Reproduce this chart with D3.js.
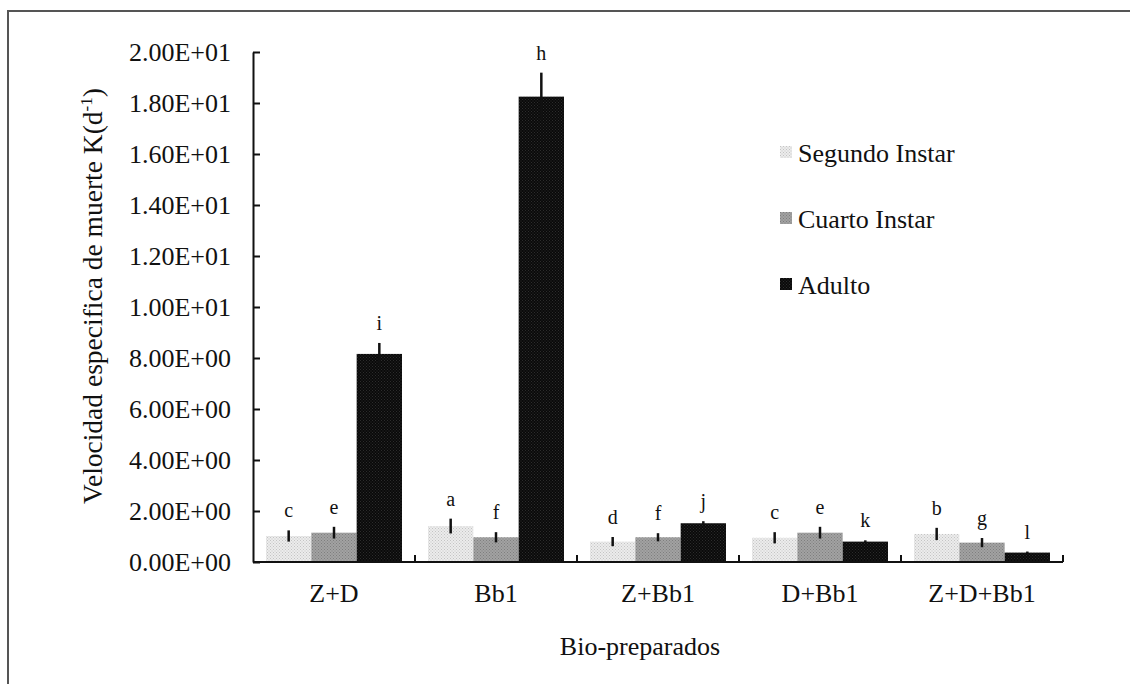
<!DOCTYPE html>
<html>
<head>
<meta charset="utf-8">
<script src="https://cdn.jsdelivr.net/npm/d3@7"></script>
<style>
  body { margin: 0; background: #fff; }
</style>
</head>
<body>
<svg id="chart" width="1130" height="684"></svg>
<script>
let categories = ["Z+D", "Bb1", "Z+Bb1", "D+Bb1", "Z+D+Bb1"]
let seriesNames = ["Segundo Instar", "Cuarto Instar", "Adulto"]

let segundo = [1.02, 1.41, 0.80, 0.95, 1.10]
let cuarto = [1.15, 0.97, 0.97, 1.15, 0.76]
let adulto = [8.16, 18.25, 1.52, 0.80, 0.37]

let segundoErr = [0.22, 0.29, 0.18, 0.22, 0.24]
let cuartoErr = [0.23, 0.20, 0.16, 0.23, 0.18]
let adultoErr = [0.43, 0.94, 0.08, 0.05, 0.04]

let segundoLetters = ["c", "a", "d", "c", "b"]
let cuartoLetters = ["e", "f", "f", "e", "g"]
let adultoLetters = ["i", "h", "j", "k", "l"]

let yTicks = [0, 2, 4, 6, 8, 10, 12, 14, 16, 18, 20]

let seriesValues = [segundo, cuarto, adulto]
let seriesErr = [segundoErr, cuartoErr, adultoErr]
let seriesLetters = [segundoLetters, cuartoLetters, adultoLetters]

const SERIF = "'Liberation Serif', 'Times New Roman', serif"

let svg = d3.select("#chart")
  .style("font-family", SERIF)

// frame of the figure
svg.append("path")
  .attr("d", "M8,684V11H1130")
  .attr("fill", "none")
  .attr("stroke", "#555")
  .attr("stroke-width", 2)

// fill patterns, roughly like the dotted printer fills
let defs = svg.append("defs")
let pats = [
  { id: "p0", bg: "#ececec", dot: "#c4c4c4" },
  { id: "p1", bg: "#a2a2a2", dot: "#7e7e7e" },
  { id: "p2", bg: "#0a0a0a", dot: "#2c2c2c" }
]
pats.forEach((p) => {
  let pat = defs.append("pattern")
    .attr("id", p.id)
    .attr("width", 3)
    .attr("height", 3)
    .attr("patternUnits", "userSpaceOnUse")
  pat.append("rect").attr("width", 3).attr("height", 3).attr("fill", p.bg)
  pat.append("rect").attr("width", 1).attr("height", 1).attr("fill", p.dot)
  pat.append("rect").attr("x", 1.5).attr("y", 1.5).attr("width", 1).attr("height", 1).attr("fill", p.dot)
})

let plotLeft = 253, plotRight = 1063, plotTop = 52, plotBottom = 562

let x = d3.scaleBand()
  .domain(categories)
  .range([plotLeft, plotRight])
  .padding(0)

let xs = d3.scaleBand()
  .domain(seriesNames)
  .range([0, x.bandwidth()])
  .paddingInner(0)
  .paddingOuter(0.287)

let y = d3.scaleLinear()
  .domain([0, 20])
  .range([plotBottom, plotTop])

function sci(v) {
  if (v === 0) return "0.00E+00"
  let e = Math.floor(Math.log10(v))
  let m = v / Math.pow(10, e)
  return m.toFixed(2) + "E+" + String(e).padStart(2, "0")
}

// y axis
let yAxis = svg.append("g")
  .attr("transform", `translate(${plotLeft},0)`)
  .call(d3.axisLeft(y)
    .tickValues(yTicks)
    .tickFormat(sci)
    .tickSizeInner(-7)
    .tickSizeOuter(0)
    .tickPadding(22))
yAxis.attr("font-family", null)
yAxis.select(".domain").attr("stroke", "#111").attr("stroke-width", 2)
yAxis.selectAll(".tick line").attr("stroke", "#111").attr("stroke-width", 2)
yAxis.selectAll(".tick text")
  .style("font-family", SERIF)
  .style("font-size", "26px")
  .attr("fill", "#111")

// bars
seriesNames.forEach((s, si) => {
  let g = svg.append("g")
  g.selectAll("rect")
    .data(categories)
    .enter()
    .append("rect")
    .attr("x", (d) => x(d) + xs(s))
    .attr("width", xs.bandwidth())
    .attr("y", (d, i) => y(seriesValues[si][i]))
    .attr("height", (d, i) => plotBottom - y(seriesValues[si][i]))
    .attr("fill", `url(#p${si})`)

  g.selectAll("line")
    .data(categories)
    .enter()
    .append("line")
    .attr("x1", (d) => x(d) + xs(s) + xs.bandwidth() / 2)
    .attr("x2", (d) => x(d) + xs(s) + xs.bandwidth() / 2)
    .attr("y1", (d, i) => y(seriesValues[si][i] - seriesErr[si][i]))
    .attr("y2", (d, i) => y(seriesValues[si][i] + seriesErr[si][i]))
    .attr("stroke", "#111")
    .attr("stroke-width", 2.5)

  g.selectAll("text")
    .data(categories)
    .enter()
    .append("text")
    .attr("x", (d) => x(d) + xs(s) + xs.bandwidth() / 2)
    .attr("y", (d, i) => y(seriesValues[si][i] + seriesErr[si][i]) - 13)
    .attr("text-anchor", "middle")
    .attr("fill", "#111")
    .style("font-family", SERIF)
    .style("font-size", "20px")
    .text((d, i) => seriesLetters[si][i])
})

// x axis line and category separators
svg.append("line")
  .attr("x1", plotLeft).attr("x2", plotRight)
  .attr("y1", plotBottom).attr("y2", plotBottom)
  .attr("stroke", "#111").attr("stroke-width", 2)

svg.append("g").selectAll("line")
  .data(categories)
  .enter()
  .append("line")
  .attr("x1", (d) => x(d) + x.bandwidth())
  .attr("x2", (d) => x(d) + x.bandwidth())
  .attr("y1", plotBottom)
  .attr("y2", plotBottom - 7)
  .attr("stroke", "#111").attr("stroke-width", 2)

svg.append("g").selectAll("text")
  .data(categories)
  .enter()
  .append("text")
  .attr("x", (d) => x(d) + x.bandwidth() / 2)
  .attr("y", 602)
  .attr("text-anchor", "middle")
  .attr("fill", "#111")
  .style("font-family", SERIF)
  .style("font-size", "26px")
  .text((d) => d)

// axis titles
svg.append("text")
  .attr("x", 640)
  .attr("y", 655)
  .attr("text-anchor", "middle")
  .attr("fill", "#111")
  .style("font-family", SERIF)
  .style("font-size", "26px")
  .text("Bio-preparados")

let yt = svg.append("text")
  .attr("transform", "translate(102,296) rotate(-90)")
  .attr("text-anchor", "middle")
  .attr("fill", "#111")
  .style("font-family", SERIF)
  .style("font-size", "27.5px")
yt.append("tspan").text("Velocidad especifica de muerte K(d")
yt.append("tspan").attr("dy", -10).style("font-size", "17px").text("-1")
yt.append("tspan").attr("dy", 10).text(")")

// legend
let legendY = [152, 218, 284]
let legend = svg.append("g").selectAll("g")
  .data(seriesNames)
  .enter()
  .append("g")
  .attr("transform", (d, i) => `translate(780,${legendY[i]})`)
legend.append("rect")
  .attr("y", -6)
  .attr("width", 12)
  .attr("height", 12)
  .attr("fill", (d, i) => `url(#p${i})`)
legend.append("text")
  .attr("x", 18)
  .attr("y", 10)
  .attr("fill", "#111")
  .style("font-family", SERIF)
  .style("font-size", "26px")
  .text((d) => d)
</script>
</body>
</html>
